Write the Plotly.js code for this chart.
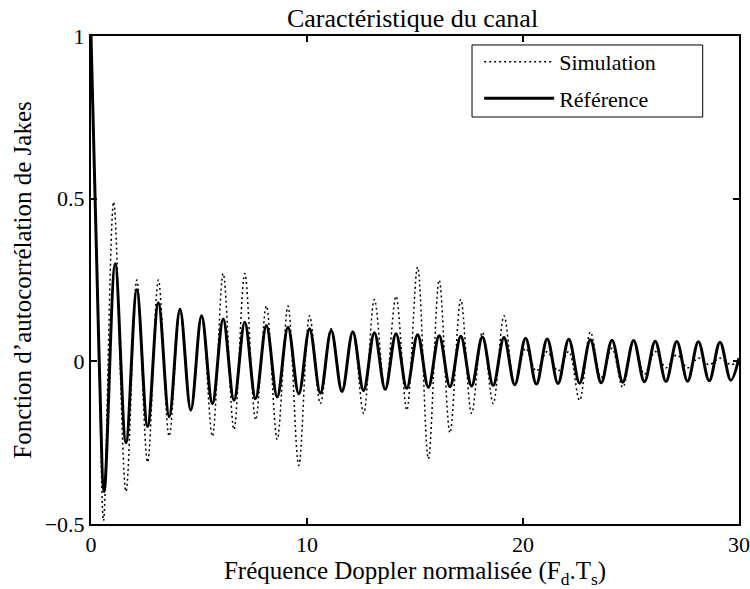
<!DOCTYPE html>
<html>
<head>
<meta charset="utf-8">
<script src="https://cdn.plot.ly/plotly-3.0.1.min.js"></script>
<style>html,body{margin:0;padding:0;background:#fff;}</style>
</head>
<body>
<div id="chart" style="width:750px;height:589px;"></div>
<script>
// Reference (Jakes, J0) – extrema
const refX = [0, 0.38, 0.61, 1.12, 1.62, 2.12, 2.62, 3.12, 3.62, 4.12, 4.62, 5.12, 5.62, 6.12, 6.62, 7.12, 7.62, 8.12, 8.62, 9.12, 9.62, 10.12, 10.62, 11.12, 11.62, 12.12, 12.62, 13.12, 13.62, 14.12, 14.62, 15.12, 15.62, 16.12, 16.62, 17.12, 17.62, 18.12, 18.62, 19.12, 19.62, 20.12, 20.62, 21.12, 21.62, 22.12, 22.62, 23.12, 23.62, 24.12, 24.62, 25.12, 25.62, 26.12, 26.62, 27.12, 27.62, 28.12, 28.62, 29.12, 29.62, 30];
const refY = [1, 0, -0.40, 0.30, -0.25, 0.22, -0.20, 0.18, -0.17, 0.16, -0.15, 0.14, -0.13, 0.13, -0.12, 0.12, -0.115, 0.11, -0.11, 0.105, -0.10, 0.10, -0.098, 0.095, -0.093, 0.091, -0.09, 0.088, -0.086, 0.085, -0.083, 0.082, -0.08, 0.079, -0.078, 0.077, -0.076, 0.075, -0.074, 0.073, -0.072, 0.071, -0.07, 0.069, -0.068, 0.068, -0.067, 0.066, -0.066, 0.065, -0.064, 0.064, -0.063, 0.062, -0.062, 0.061, -0.061, 0.06, -0.06, 0.059, -0.058, 0.01];

// Simulation – extrema
const simX = [0, 0.38, 0.58, 1.05, 1.62, 2.12, 2.62, 3.12, 3.62, 4.12, 4.62, 5.12, 5.62, 6.12, 6.62, 7.12, 7.62, 8.12, 8.62, 9.12, 9.62, 10.12, 10.62, 11.12, 11.62, 12.12, 12.62, 13.12, 13.62, 14.12, 14.62, 15.12, 15.62, 16.12, 16.62, 17.12, 17.62, 18.12, 18.62, 19.12, 19.62, 20.12, 20.62, 21.12, 21.62, 22.12, 22.62, 23.12, 23.62, 24.12, 24.62, 25.12, 25.62, 26.12, 26.62, 27.12, 27.62, 28.12, 28.62, 29.12, 29.62, 30];
const simY = [1, 0, -0.49, 0.49, -0.40, 0.25, -0.31, 0.25, -0.23, 0.16, -0.15, 0.14, -0.23, 0.27, -0.21, 0.27, -0.18, 0.17, -0.24, 0.17, -0.32, 0.14, -0.13, 0.10, -0.09, 0.09, -0.16, 0.19, -0.09, 0.20, -0.15, 0.29, -0.30, 0.25, -0.22, 0.19, -0.16, 0.09, -0.13, 0.14, -0.07, 0.04, -0.03, 0.03, -0.03, 0.03, -0.12, 0.09, -0.05, 0.04, -0.08, 0.06, -0.04, 0.03, -0.02, 0.02, -0.02, 0.01, -0.01, 0.01, -0.01, 0];

const xTicks = [0, 10, 20, 30];
const yTicks = [-0.5, 0, 0.5, 1];
const yTickText = ['\u22120.5', '0', '0.5', '1'];

const FONT = "Liberation Serif, 'Times New Roman', serif";

const traces = [
  {
    x: simX, y: simY, type: 'scatter', mode: 'lines', name: 'Simulation',
    line: {color: '#000', width: 1.5, dash: '2px,3px', shape: 'spline', smoothing: 1},
    legendgroup: 'a'
  },
  {
    x: refX, y: refY, type: 'scatter', mode: 'lines', name: 'Référence',
    line: {color: '#000', width: 3, shape: 'spline', smoothing: 1},
    legendgroup: 'b'
  }
];

const layout = {
  width: 750, height: 589,
  margin: {l: 91, r: 11, t: 36, b: 65},
  paper_bgcolor: '#fff', plot_bgcolor: '#fff',
  font: {family: FONT, color: '#000', size: 22},
  title: {text: 'Caractéristique du canal', font: {family: FONT, size: 26, color: '#000'},
          x: 0.55, xanchor: 'center', y: 1 - 18/589, yanchor: 'middle', yref: 'container'},
  showlegend: true,
  legend: {
    x: 0.599, y: 0.99, xanchor: 'left', yanchor: 'top',
    borderwidth: 0, bgcolor: 'rgba(0,0,0,0)',
    font: {family: FONT, size: 22, color: '#000'},
    tracegroupgap: 5, itemwidth: 70
  },
  // legend frame (decoration)
  shapes: [{
    type: 'rect', xref: 'paper', yref: 'paper',
    x0: 0.588, x1: 0.944, y0: 0.834, y1: 0.9816,
    line: {color: '#000', width: 1}, fillcolor: '#fff', layer: 'above'
  }],
  xaxis: {
    range: [0, 30], tickvals: xTicks, ticktext: xTicks.map(String),
    showgrid: false, zeroline: false,
    showline: true, linecolor: '#000', linewidth: 2, mirror: 'ticks',
    ticks: 'inside', ticklen: 6, tickwidth: 2, tickcolor: '#000',
    tickfont: {family: FONT, size: 22, color: '#000'},
    title: {text: 'Fréquence Doppler normalisée (F<sub>d</sub>.T<sub>s</sub>)', font: {family: FONT, size: 25, color: '#000'}, standoff: 0}
  },
  yaxis: {
    range: [-0.5, 1], tickvals: yTicks, ticktext: yTickText,
    showgrid: false, zeroline: false,
    showline: true, linecolor: '#000', linewidth: 2, mirror: 'ticks',
    ticks: 'inside', ticklen: 6, tickwidth: 2, tickcolor: '#000',
    tickfont: {family: FONT, size: 22, color: '#000'},
    title: {text: "Fonction d’autocorrélation de Jakes", font: {family: FONT, size: 25, color: '#000'}, standoff: 6}
  }
};

Plotly.newPlot('chart', traces, layout, {displayModeBar: false, staticPlot: true});
</script>
</body>
</html>
